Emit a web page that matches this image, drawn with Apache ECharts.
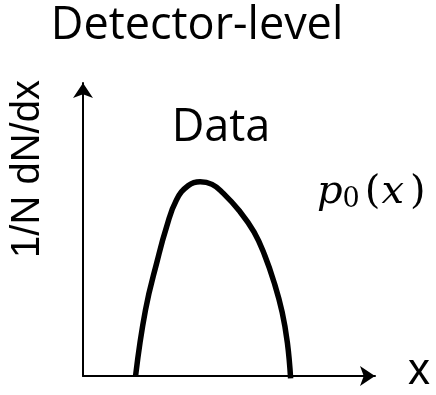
<!DOCTYPE html>
<html>
<head>
<meta charset="utf-8">
<script src="https://cdn.jsdelivr.net/npm/echarts@6/dist/echarts.min.js"></script>
<style>
  html, body { margin: 0; padding: 0; background: #fff; }
  #chart { width: 436px; height: 395px; }
</style>
</head>
<body>
<div id="chart"></div>
<script>
// Sketch of a detector-level distribution p0(x)
const curveX = [1.80, 2.14, 2.55, 2.86, 3.20, 3.61, 4.01, 4.42, 4.79, 5.36, 5.86, 6.23, 6.54, 6.82, 7.00, 7.11];
const curveY = [0.00, 2.25, 3.96, 5.08, 6.01, 6.50, 6.63, 6.54, 6.25, 5.63, 4.91, 4.10, 3.21, 2.18, 1.13, -0.08];
const titleText = 'Detector-level';
const yLabel = '1/N dN/dx';
const xLabel = 'x';
const seriesLabel = 'Data';

const points = curveX.map((x, i) => [x, curveY[i]]);

const chart = echarts.init(document.getElementById('chart'), null, { renderer: 'canvas' });

const axisLine = {
  show: true,
  onZero: false,
  symbol: ['none', 'arrow'],
  symbolSize: [15, 15],
  lineStyle: { color: '#000', width: 2 }
};

chart.setOption({
  animation: false,
  backgroundColor: '#fff',
  grid: { left: 83, right: 61, top: 83, bottom: 19, containLabel: false },
  xAxis: {
    type: 'value', min: 0, max: 10,
    axisLine: axisLine,
    axisTick: { show: false }, axisLabel: { show: false }, splitLine: { show: false }
  },
  yAxis: {
    type: 'value', min: 0, max: 10,
    axisLine: axisLine,
    axisTick: { show: false }, axisLabel: { show: false }, splitLine: { show: false }
  },
  series: [{
    type: 'line',
    data: points,
    smooth: 0.45,
    showSymbol: false,
    clip: false,
    lineStyle: { color: '#000', width: 5.5, cap: 'butt', join: 'round' }
  }],
  graphic: [
    {
      type: 'text', x: 197, y: 26,
      style: { text: titleText, font: '45px "Open Sans"', fill: '#000', align: 'center', verticalAlign: 'middle' }
    },
    {
      type: 'text', x: 28, y: 169, rotation: Math.PI / 2,
      style: { text: yLabel, font: '40px "Liberation Sans"', fill: '#000', align: 'center', verticalAlign: 'middle' }
    },
    {
      type: 'text', x: 221, y: 128,
      style: { text: seriesLabel, font: '45px "Open Sans"', fill: '#000', align: 'center', verticalAlign: 'middle' }
    },
    {
      type: 'text', x: 419, y: 372,
      style: { text: xLabel, font: '44px "Liberation Sans"', fill: '#000', align: 'center', verticalAlign: 'middle' }
    },
    {
      type: 'text', x: 317, y: 193,
      style: {
        text: '{i|p}{s|0}{n|(}{x|x}{n|)}',
        verticalAlign: 'middle',
        rich: {
          i: { font: 'italic 40px "DejaVu Serif"', fill: '#000' },
          s: { font: '27px "DejaVu Serif"', fill: '#000', padding: [14, 5, 0, 0] },
          x: { font: 'italic 40px "DejaVu Serif"', fill: '#000', padding: [0, 6, 0, 1] },
          n: { font: '40px "DejaVu Serif"', fill: '#000' }
        }
      }
    }
  ]
});
</script>
</body>
</html>
